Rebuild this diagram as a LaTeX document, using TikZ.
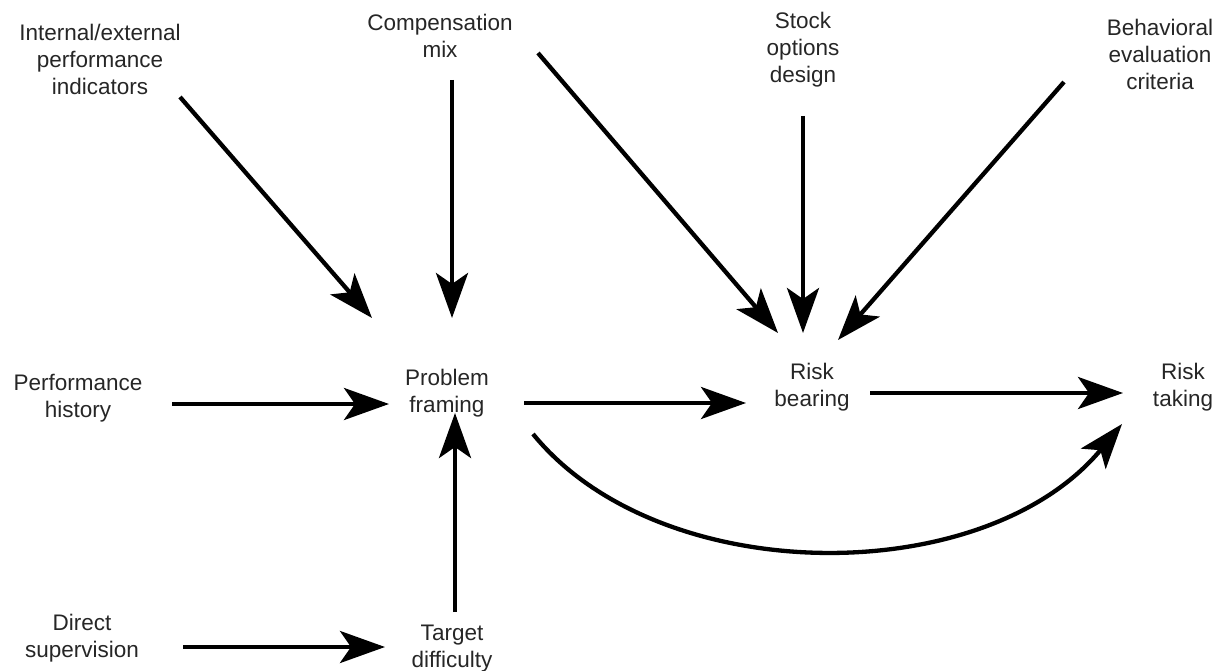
\documentclass[tikz,border=0pt]{standalone}
\usepackage{fontspec}
\setmainfont{Liberation Sans}
\usetikzlibrary{arrows.meta}
\begin{document}
\begin{tikzpicture}[x=1pt,y=-1pt,
  lbl/.style={align=center,inner sep=0pt,font=\fontsize{22.5}{27}\selectfont,text=black!85},
  arr/.style={line width=4.3pt,-{Stealth[length=45pt,width=32pt,inset=11pt]}}]
\useasboundingbox (0,0) rectangle (1217,671);

% factor labels
\node[lbl] (iei) at (100,59) {Internal/external\\performance\\indicators};
\node[lbl] (cm)  at (440,36) {Compensation\\mix};
\node[lbl] (sod) at (803,50) {Stock\\options\\design};
\node[lbl] (bec) at (1160,54) {Behavioral\\evaluation\\criteria};
\node[lbl] (ph)  at (78,398) {Performance\\history};
\node[lbl] (pf)  at (447,393) {Problem\\framing};
\node[lbl] (rb)  at (812,387) {Risk\\bearing};
\node[lbl] (rt)  at (1183,387) {Risk\\taking};
\node[lbl] (ds)  at (82,638) {Direct\\supervision};
\node[lbl] (td)  at (452,649) {Target\\difficulty};

% arrow end points
\coordinate (iei-o) at (180,97);   \coordinate (pf-nw) at (372,318);
\coordinate (cm-o)  at (452,80);   \coordinate (pf-n)  at (452,318);
\coordinate (cm-o2) at (538,53);   \coordinate (rb-nw) at (778,333);
\coordinate (sod-o) at (803,116);  \coordinate (rb-n)  at (803,333);
\coordinate (bec-o) at (1064,82);  \coordinate (rb-ne) at (838,340);
\coordinate (ph-o)  at (172,404);  \coordinate (pf-w)  at (389,404);
\coordinate (pf-e)  at (524,403);  \coordinate (rb-w)  at (746,403);
\coordinate (rb-e)  at (870,393);  \coordinate (rt-w)  at (1123,393);
\coordinate (ds-o)  at (183,647);  \coordinate (td-w)  at (385,647);
\coordinate (td-n)  at (455,612);  \coordinate (pf-s)  at (455,413);
\coordinate (pf-se) at (533,434);  \coordinate (rt-sw) at (1122,424);

\draw[arr] (iei-o) -- (pf-nw);
\draw[arr] (cm-o) -- (pf-n);
\draw[arr] (cm-o2) -- (rb-nw);
\draw[arr] (sod-o) -- (rb-n);
\draw[arr] (bec-o) -- (rb-ne);
\draw[arr] (ph-o) -- (pf-w);
\draw[arr] (pf-e) -- (rb-w);
\draw[arr] (rb-e) -- (rt-w);
\draw[arr] (ds-o) -- (td-w);
\draw[arr] (td-n) -- (pf-s);
\draw[arr] (pf-se) .. controls (660,590) and (985,590) .. (rt-sw);
\end{tikzpicture}
\end{document}
